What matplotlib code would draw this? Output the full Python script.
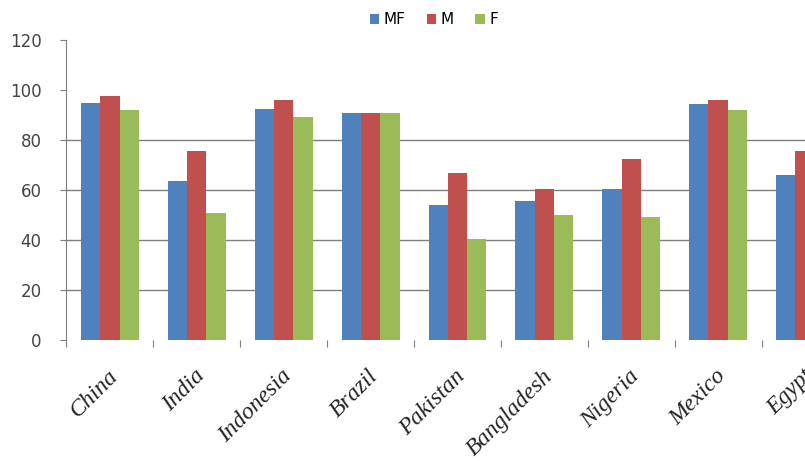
import matplotlib.pyplot as plt
import numpy as np

# literacy rates by country (%)
countries = ['China', 'India', 'Indonesia', 'Brazil', 'Pakistan',
             'Bangladesh', 'Nigeria', 'Mexico', 'Egypt']
mf = [94.7, 63.7, 92.3, 90.8, 54.0, 55.7, 60.5, 94.1, 66.0]
m = [97.4, 75.6, 95.7, 90.8, 66.9, 60.2, 72.4, 95.7, 75.6]
f = [91.8, 50.9, 89.3, 90.8, 40.3, 50.0, 49.3, 91.7, 57.8]

series = [('MF', mf, '#4F81BD'), ('M', m, '#C0504D'), ('F', f, '#9BBB59')]

fig = plt.figure(figsize=(8.05, 4.61), dpi=100)
ax = fig.add_axes([0.0826, 0.2614, 0.9174, 0.6529])

x = np.arange(len(countries))
w = 0.222
for i, (name, vals, col) in enumerate(series):
    ax.bar(x + (i - 1) * w, vals, w, color=col, label=name, zorder=3)

ax.set_xlim(-0.5, 8.0)
ax.set_ylim(0, 120)
ax.set_yticks(range(0, 121, 20))
ax.yaxis.grid(True, color='#7f7f7f', lw=1.0, zorder=0)
# only the lower gridlines are drawn
for g, v in zip(ax.yaxis.get_gridlines(), range(0, 121, 20)):
    if v == 0 or v >= 100:
        g.set_visible(False)

for s in ['top', 'right', 'bottom']:
    ax.spines[s].set_visible(False)
ax.spines['left'].set_color('#7f7f7f')
ax.tick_params(axis='y', length=4, color='#7f7f7f', labelsize=12,
               labelcolor='#444444', pad=14)

# category boundary ticks and rotated names
ax.set_xticks(np.arange(-0.5, 8.0, 1.0))
ax.set_xticklabels([])
ax.tick_params(axis='x', length=5, color='#7f7f7f', direction='out')
for xi, name in zip(x, countries):
    ax.text(xi - 0.03, -10, name, rotation=45, ha='right', va='top',
            rotation_mode='anchor', family='Liberation Serif',
            style='italic', fontsize=17, color='#222222')

fig.legend(loc='center', bbox_to_anchor=(434 / 805, 1 - 20 / 461), ncol=3,
           frameon=False, fontsize=11, handlelength=0.6, handleheight=0.6,
           handletextpad=0.3, columnspacing=1.4)

fig.savefig('out.png', dpi=100)
